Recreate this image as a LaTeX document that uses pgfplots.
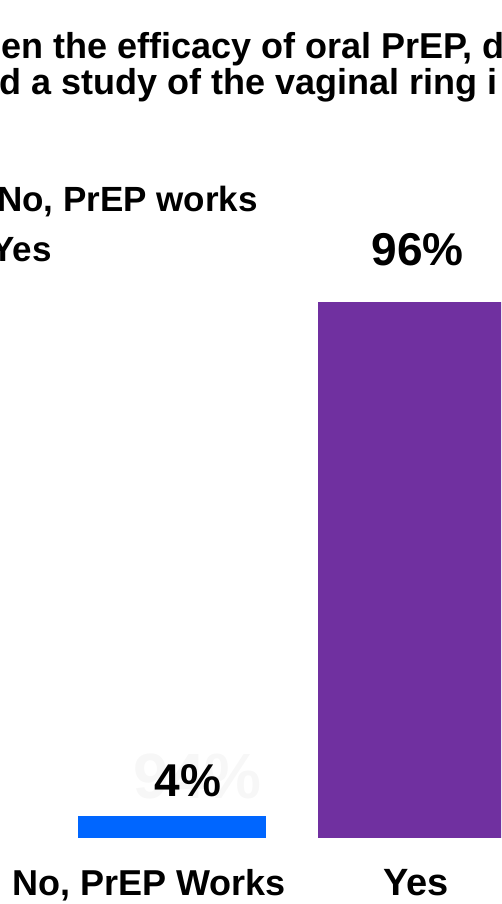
\documentclass[border=0pt]{standalone}
\usepackage{pgfplots}
\pgfplotsset{compat=1.18}
\usepackage{fontspec}
\setmainfont{Liberation Sans}
\definecolor{barblue}{HTML}{0066FF}
\definecolor{barpurple}{HTML}{7030A0}
\newcommand{\fs}[1]{\fontsize{#1}{#1}\selectfont\bfseries}
\begin{document}
\begin{tikzpicture}
\useasboundingbox (0pt,0pt) rectangle (501pt,904pt);
\clip (0pt,0pt) rectangle (501pt,904pt);
% title (cropped slide heading)
\node[overlay, anchor=base west, inner sep=0] at (1pt,845pt) {\fs{36}en the efficacy of oral PrEP, d};
\node[overlay, anchor=base west, inner sep=0] at (-1pt,809pt) {\fs{36}d a study of the vaginal ring i};
% legend text (swatches lie outside the crop)
\node[overlay, anchor=base west, inner sep=0] at (-3pt,692pt) {\fs{35}No, PrEP works};
\node[overlay, anchor=base west, inner sep=0] at (-9pt,642pt) {\fs{35}Yes};
\begin{axis}[
    at={(0pt,65.7pt)}, anchor=south west,
    scale only axis, width=501pt, height=838.3pt,
    xmin=-0.71667, xmax=1.37083, ymin=0, ymax=150,
    ybar, bar width=188pt, bar shift=0pt,
    axis line style={draw=none}, major tick length=0pt,
    ytick=\empty,
    xtick={-0.0958,1.0167},
    xticklabels={{No, PrEP Works},{\fontsize{38}{38}\selectfont Yes}},
    xticklabel style={font=\fs{36}, anchor=base, yshift=-56.7pt},
  ]
  \addplot[fill=barblue, draw=none] coordinates {(0,4)};
  \addplot[fill=barpurple, draw=none] coordinates {(1,96)};
  \node[anchor=base, text=black!3, inner sep=0] at (axis cs:0.1062,7.2) {\fs{64}94\%};
  \node[anchor=base, inner sep=0] at (axis cs:0.0667,7.39) {\fs{46}4\%};
  \node[anchor=base, inner sep=0] at (axis cs:1.0229,102.57) {\fs{46}96\%};
\end{axis}
\end{tikzpicture}
\end{document}
